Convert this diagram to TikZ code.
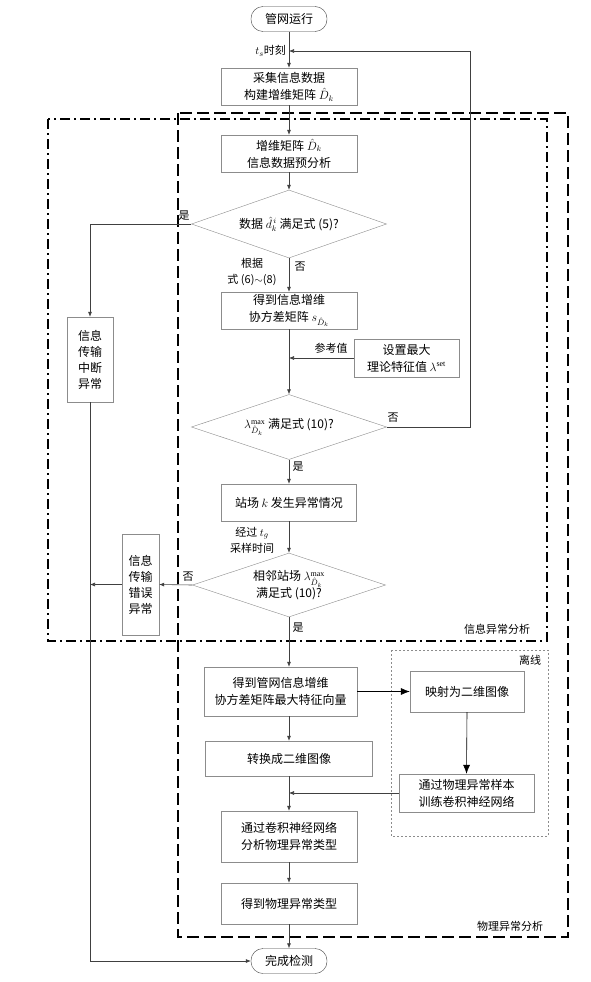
\documentclass[tikz,border=0pt]{standalone}
\usepackage{fontspec}
\setmainfont{Liberation Serif}
\newfontfamily\cjk{Noto Sans CJK SC}
\usepackage{xcolor}
\usepackage{tikz}
\usepackage{amsmath}
\usetikzlibrary{positioning, arrows.meta, shapes, calc}
\definecolor{boxgray}{gray}{0.55}
\definecolor{linegray}{gray}{0.25}

\begin{document}
\begin{tikzpicture}[
        x=1pt, y=-1pt,
        process/.style={rectangle, draw=boxgray, fill=white, inner sep=2pt, align=center, font=\cjk\fontsize{12}{17}\selectfont},
        decision/.style={diamond, aspect=3, draw=boxgray, fill=white, inner sep=0pt, align=center, font=\cjk\fontsize{12}{17}\selectfont},
        terminal/.style={rectangle, rounded corners=12pt, draw=linegray, fill=white, minimum width=76pt, minimum height=25pt, font=\cjk\fontsize{12}{15}\selectfont},
        branch/.style={font=\cjk\fontsize{11}{16}\selectfont, inner sep=1pt, align=center},
        arrow/.style={draw=linegray, line width=0.6pt, -{Latex[length=5pt, width=4pt]}},
        bigarrow/.style={draw=black, line width=0.6pt, -{Latex[length=9pt, width=7pt]}},
        region/.style={draw=black, line width=1.5pt}
    ]

    \useasboundingbox[fill=white] (0,0) rectangle (590,982);

    % Analysis regions (drawn first, behind the boxes)
    \draw[region, dash pattern=on 12pt off 5pt] (178,113) rectangle (568,937);
    \draw[region, dash pattern=on 10pt off 4pt on 2pt off 4pt] (48,119) rectangle (547,641);
    \draw[boxgray, line width=0.6pt, dash pattern=on 2pt off 2pt] (391,650) rectangle (548,836);

    \node[branch] (infolab) at (497,629) {信息异常分析};
    \node[branch] (physlab) at (510,926) {物理异常分析};
    \node[branch] (offlab)  at (530,660) {离线};

    % --------------------------------------------------
    % main column
    \node[terminal] (start) at (289,19) {管网运行};
    \node[process, minimum width=136pt, minimum height=37pt] (gather) at (289,86.5)
        {采集信息数据\\构建增维矩阵 $\hat{D}_k$};
    \node[process, minimum width=136pt, minimum height=37pt] (pre) at (289,153.5)
        {增维矩阵 $\hat{D}_k$\\信息数据预分析};
    \node[decision, minimum width=195pt, minimum height=68pt] (chk5) at (289,224)
        {数据 $\hat{d}_k^{\,i}$ 满足式 (5)?};
    \node[process, minimum width=136pt, minimum height=37pt] (cov) at (289,310.5)
        {得到信息增维\\协方差矩阵 $s_{\hat{D}_k}$};
    \node[process, minimum width=105pt, minimum height=38pt] (setmax) at (406.5,358)
        {设置最大\\理论特征值 $\lambda^{\mathrm{set}}$};
    \node[decision, minimum width=195pt, minimum height=65pt] (chk10) at (289,427)
        {$\lambda_{\hat{D}_k}^{\max}$ 满足式 (10)?};
    \node[process, minimum width=135pt, minimum height=37pt] (site) at (289,502.5)
        {站场 $k$ 发生异常情况};
    \node[decision, minimum width=193pt, minimum height=64pt] (nbr) at (289,585)
        {相邻站场 $\lambda_{\hat{D}_k}^{\max}$\\满足式 (10)?};

    % --------------------------------------------------
    % information anomaly outputs (left)
    \node[process, minimum width=46pt, minimum height=85pt, font=\cjk\fontsize{12}{16}\selectfont] (cutbox) at (90,359.5)
        {信息\\传输\\中断\\异常};
    \node[process, minimum width=37pt, minimum height=101pt, font=\cjk\fontsize{12}{16}\selectfont] (errbox) at (140.5,584.5)
        {信息\\传输\\错误\\异常};

    % --------------------------------------------------
    % physical anomaly analysis
    \node[process, minimum width=153pt, minimum height=49pt] (vec) at (280.5,691.5)
        {得到管网信息增维\\协方差矩阵最大特征向量};
    \node[process, minimum width=114pt, minimum height=41pt] (map) at (467,691.5)
        {映射为二维图像};
    \node[process, minimum width=135pt, minimum height=38pt] (train) at (466.5,793)
        {通过物理异常样本\\训练卷积神经网络};
    \node[process, minimum width=167pt, minimum height=35pt] (img) at (289,758.5)
        {转换成二维图像};
    \node[process, minimum width=136pt, minimum height=51pt] (cnn) at (289,836.5)
        {通过卷积神经网络\\分析物理异常类型};
    \node[process, minimum width=136pt, minimum height=41pt] (type) at (289,903.5)
        {得到物理异常类型};
    \node[terminal] (done) at (289,961) {完成检测};

    % --------------------------------------------------
    % connectors
    \coordinate (ts) at (289,51);
    \coordinate (loop) at (470,51);

    \foreach \a/\b in {start/gather, gather/pre, pre/chk5, chk5/cov, cov/chk10,
                       chk10/site, site/nbr, img/cnn, cnn/type, type/done} {
        \draw[arrow] (\a.south) -- (\b.north);
    }
    \draw[arrow] (nbr.south) -- (nbr.south |- vec.north);
    \draw[arrow] (vec.south -| img.north) -- (img.north);

    \draw[arrow] (chk5.west) -| (cutbox.north);
    \draw[arrow] (setmax.west) -- (setmax.west -| cov.south);
    \draw[arrow] (chk10.east) -| (loop) -- (ts);
    \draw[arrow] (nbr.west) -- (errbox.east);
    \draw[arrow] (errbox.west) -- (errbox.west -| cutbox.south);
    \draw[arrow] (cutbox.south) |- (done.west);

    \draw[bigarrow] (vec.east) -- (map.west);
    \draw[bigarrow] (map.south) -- (train.north);
    \draw[arrow] (train.west) -- (train.west -| img.south);

    % branch labels
    \node[branch, anchor=east] (tslab) at (287,51) {$t_s$时刻};
    \node[branch] (yes5)   at (184,216) {是};
    \node[branch] (no5)    at (300,267) {否};
    \node[branch] (ref68)  at (252,272) {根据\\式 (6)$\sim$(8)};
    \node[branch] (refval) at (331,348) {参考值};
    \node[branch] (no10)   at (393,418) {否};
    \node[branch] (yes10)  at (298,467) {是};
    \node[branch] (tg)     at (252,540) {经过 $t_g$\\采样时间};
    \node[branch] (nonbr)  at (188,577) {否};
    \node[branch] (yesnbr) at (298,628) {是};

\end{tikzpicture}
\end{document}
